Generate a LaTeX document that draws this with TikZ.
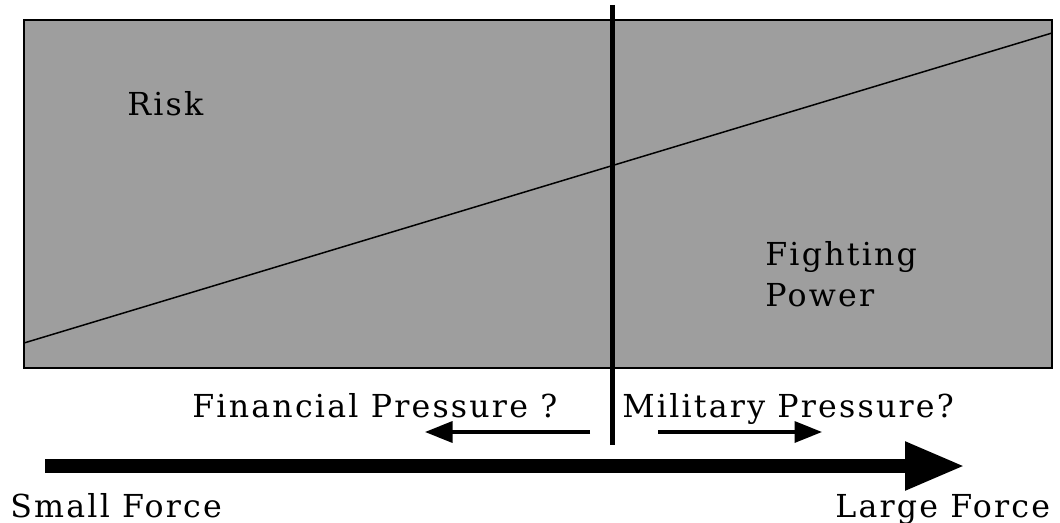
\documentclass[tikz,border=0pt]{standalone}
\usepackage{fontspec}
\setmainfont{DejaVu Serif}
\newfontfamily\lblfont[LetterSpace=7]{DejaVu Serif}
\usetikzlibrary{arrows.meta, positioning}
\definecolor{areagray}{RGB}{158,158,158}

\begin{document}
\begin{tikzpicture}[x=0.02cm, y=-0.02cm, >=Stealth]
  \useasboundingbox (0,0) rectangle (1060,523);
  \tikzset{lbl/.style={font=\lblfont\fontsize{18}{22}\selectfont,
                       inner sep=0pt, anchor=base west}}

  % Shaded area
  \node[draw, line width=0.05cm, fill=areagray, minimum width=20.56cm,
        minimum height=6.96cm, inner sep=0pt] (area) at (538,194) {};

  % Risk / fighting power line
  \coordinate (lineL) at (24,343);
  \coordinate (lineR) at (1052,33);
  \draw[line width=0.03cm] (lineL) -- (lineR);

  % Divider
  \coordinate (divtop) at (612,5);
  \coordinate (divbot) at (612,445);
  \draw[line width=0.1cm] (divtop) -- (divbot);

  % Labels in the area
  \node[lbl] (risk) at (127,116) {Risk};
  \node[lbl] (fightA) at (765,266) {Fighting};
  \node[lbl] (fightB) at (765,306) {Power};

  % Pressure labels and arrows
  \node[lbl] (fin) at (192,417) {Financial Pressure ?};
  \node[lbl] (mil) at (622,417) {Military Pressure?};
  \coordinate (finS) at (590,432);
  \coordinate (finE) at (425,432);
  \coordinate (milS) at (658,432);
  \coordinate (milE) at (822,432);
  \draw[-{Triangle[length=0.55cm, width=0.42cm]}, line width=0.07cm]
    (finS) -- (finE);
  \draw[-{Triangle[length=0.55cm, width=0.42cm]}, line width=0.07cm]
    (milS) -- (milE);

  % Force axis
  \coordinate (forceS) at (45,466);
  \coordinate (forceE) at (965,466);
  \draw[-{Triangle[length=1.2cm, width=0.9cm]}, line width=0.28cm]
    (forceS) -- (forceE);
  \node[lbl] (small) at (10,517) {Small Force};
  \node[lbl] (large) at (835,517) {Large Force};
\end{tikzpicture}
\end{document}
